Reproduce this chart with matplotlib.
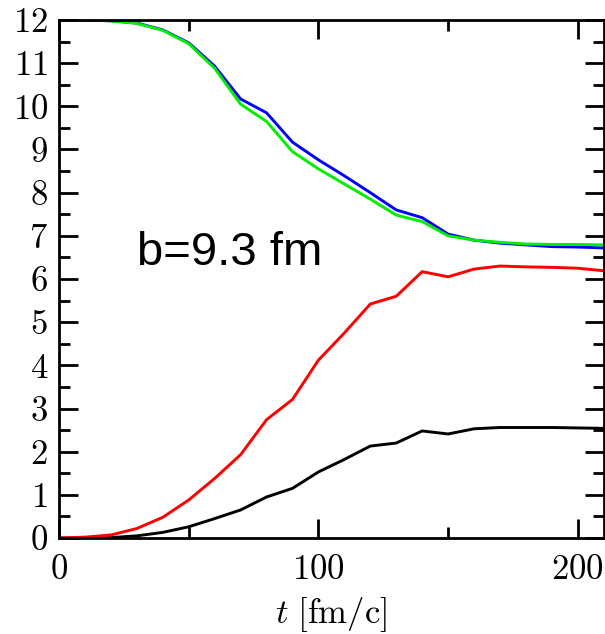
import matplotlib

matplotlib.use("Agg")
import matplotlib.pyplot as plt
from matplotlib.ticker import MultipleLocator

plt.rcParams["font.family"] = "serif"
plt.rcParams["font.serif"] = ["cmr10", "DejaVu Serif"]
plt.rcParams["mathtext.fontset"] = "cm"
plt.rcParams["axes.formatter.use_mathtext"] = True

t = [0, 10, 20, 30, 40, 50, 60, 70, 80, 90, 100, 110, 120, 130, 140, 150, 160, 170, 180, 190, 200, 210]
blue = [12.0, 12.0, 11.98, 11.93, 11.77, 11.47, 10.93, 10.17, 9.85, 9.17, 8.76, 8.39, 8.0, 7.6, 7.42,
        7.04, 6.9, 6.83, 6.79, 6.75, 6.74, 6.72]
green = [12.0, 12.0, 11.98, 11.92, 11.76, 11.45, 10.88, 10.05, 9.65, 8.95, 8.55, 8.2, 7.85, 7.48, 7.33,
         7.0, 6.9, 6.85, 6.81, 6.8, 6.8, 6.79]
red = [0.0, 0.02, 0.07, 0.22, 0.48, 0.88, 1.38, 1.93, 2.74, 3.21, 4.12, 4.75, 5.42, 5.6, 6.17,
       6.05, 6.23, 6.3, 6.28, 6.27, 6.25, 6.19]
black = [0.0, 0.0, 0.01, 0.05, 0.13, 0.26, 0.45, 0.65, 0.95, 1.15, 1.53, 1.82, 2.13, 2.2, 2.48,
         2.41, 2.53, 2.56, 2.56, 2.56, 2.55, 2.54]

fig = plt.figure(figsize=(6.05, 6.34), dpi=100)
ax = fig.add_axes([0.0975, 0.1514, 0.9005, 0.8171])

lw = 2.1
ax.plot(t, black, color="black", lw=lw)
ax.plot(t, red, color="#ff0000", lw=lw)
ax.plot(t, blue, color="#0000ff", lw=lw)
ax.plot(t, green, color="#00ee00", lw=lw)

ax.set_xlim(0, 210)
ax.set_ylim(0, 12)
ax.xaxis.set_major_locator(MultipleLocator(100))
ax.xaxis.set_minor_locator(MultipleLocator(50))
ax.yaxis.set_major_locator(MultipleLocator(1))
ax.yaxis.set_minor_locator(MultipleLocator(0.5))
ax.tick_params(which="both", direction="in", top=True, right=True, width=2.0, labelsize=25)
ax.tick_params(which="major", length=14)
ax.tick_params(which="minor", length=8)
ax.tick_params(axis="x", pad=12)
ax.tick_params(axis="y", pad=8)
for sp in ax.spines.values():
    sp.set_linewidth(2.0)

ax.set_xlabel(r"$t\ [\mathrm{fm/c}]$", fontsize=25, labelpad=6)
ax.text(30, 6.32, "b=9.3 fm", fontsize=34, family="Liberation Sans", va="baseline")

fig.savefig("out.png", dpi=100)
